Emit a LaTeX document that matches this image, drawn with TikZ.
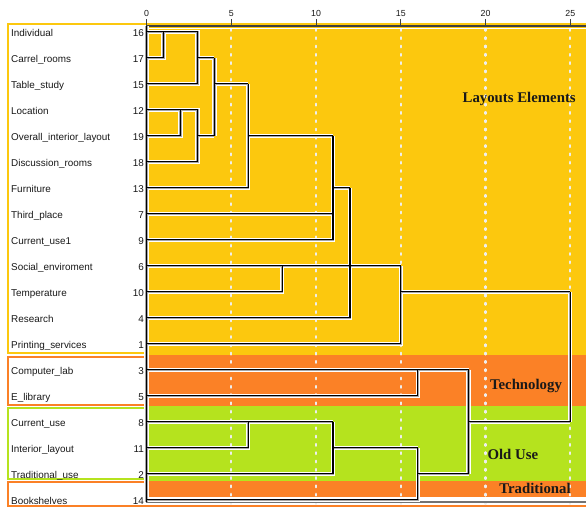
\documentclass[tikz,border=0pt]{standalone}
\usepackage{fontspec}
\setmainfont{Liberation Sans}
\newfontfamily\serifbold{Liberation Serif}
\definecolor{cyel}{RGB}{252,200,14}
\definecolor{corg}{RGB}{251,129,38}
\definecolor{cgrn}{RGB}{181,227,30}
\definecolor{cdash}{RGB}{238,238,238}
\definecolor{ctxt}{RGB}{25,25,25}
\newcommand\dendropaths[1]{%
  \draw[#1] (0,-0.22) -- (0,18.08);
  \draw[#1] (0,1) -| (1,0);
  \draw[#1] (0,0) -- (3,0) -- (3,2) -- (0,2);
  \draw[#1] (3,1) -- (4,1);
  \draw[#1] (0,4) -| (2,3);
  \draw[#1] (0,3) -- (3,3) -- (3,5) -- (0,5);
  \draw[#1] (3,4) -- (4,4);
  \draw[#1] (4,1) -- (4,4);
  \draw[#1] (4,2) -- (6,2);
  \draw[#1] (6,2) -- (6,6) -- (0,6);
  \draw[#1] (6,4) -- (11,4);
  \draw[#1] (0,7) -- (11,7);
  \draw[#1] (11,4) -- (11,8) -- (0,8);
  \draw[#1] (11,6) -- (12,6);
  \draw[#1] (0,10) -| (8,9);
  \draw[#1] (0,9) -- (15,9);
  \draw[#1] (12,6) -- (12,11) -- (0,11);
  \draw[#1] (15,9) -- (15,12) -- (0,12);
  \draw[#1] (15,10) -- (25,10);
  \draw[#1] (0,14) -| (16,13);
  \draw[#1] (0,13) -- (19,13);
  \draw[#1] (0,16) -| (6,15);
  \draw[#1] (0,15) -- (11,15);
  \draw[#1] (11,15) -- (11,17) -- (0,17);
  \draw[#1] (11,16) -- (16,16);
  \draw[#1] (16,16) -- (16,18) -- (0,18);
  \draw[#1] (16,17) -- (19,17);
  \draw[#1] (19,13) -- (19,17);
  \draw[#1] (19,15) -- (25,15);
  \draw[#1] (25,10) -- (25,15);
}
\begin{document}
\begin{tikzpicture}[x=1pt,y=-1pt,
  halo/.style={draw=white, line width=4.4pt, line join=miter},
  midl/.style={draw=black!35, line width=2.4pt, line join=miter},
  core/.style={draw=black, line width=1.2pt, line join=miter},
  lbl/.style={font=\fontsize{9.9}{11}\selectfont, text=ctxt, inner sep=0pt},
  ticklbl/.style={font=\fontsize{8.8}{10}\selectfont, text=ctxt, inner sep=0pt, anchor=base},
  grp/.style={font=\serifbold\bfseries\fontsize{14.8}{16}\selectfont, text=ctxt, inner sep=0pt, anchor=base},
  gline/.style={draw=cdash, line width=2.2pt, line cap=round, dash pattern=on 1.8pt off 6.5pt}
]
\useasboundingbox (0,0) rectangle (586,507);
\fill[white] (0,0) rectangle (586,507);
% coloured bands
\fill[cyel] (146,23.5) rectangle (586,355);
\fill[corg] (146,355) rectangle (586,405.5);
\fill[cgrn] (146,405.5) rectangle (586,480.5);
\fill[corg] (146,480.5) rectangle (586,496.5);
% group boxes on the left
\draw[cyel, line width=2pt] (586,23.5) -- (7.5,23.5) -- (7.5,352.5) -- (147,352.5);
\draw[corg, line width=2pt] (147,356.5) -- (7.5,356.5) -- (7.5,404.5) -- (147,404.5);
\draw[cgrn, line width=2pt] (147,407.5) -- (7.5,407.5) -- (7.5,479.3) -- (147,479.3);
\draw[corg, line width=2pt] (147,482) -- (7.5,482) -- (7.5,505.5) -- (586,505.5);
% grid lines
\foreach \d in {5,10,15,20,25}
  \draw[gline] ({146.5+16.95*\d},29) -- ({146.5+16.95*\d},504);
% frame lines
\draw[white, line width=1.2pt] (146,28.2) -- (586,28.2);
\draw[black!75, line width=1.3pt] (146,26) -- (586,26);
\draw[white, line width=1pt] (146,499.5) -- (586,499.5);
\draw[black!55, line width=1.2pt] (146,502) -- (586,502);
% axis ticks and labels
\foreach \d in {0,5,10,15,20,25} {
  \draw[black!75, line width=1pt] ({146.5+16.95*\d},19) -- ({146.5+16.95*\d},25);
  \node[ticklbl] (t\d) at ({146.5+16.95*\d},16) {\d};
}
% dendrogram
\begin{scope}[xshift=146.5pt, yshift=-31.7pt, x=16.95pt, y=-26pt]
  \dendropaths{halo}
  \dendropaths{midl}
  \dendropaths{core}
\end{scope}
% row labels
\foreach \i/\nm/\nu in {0/Individual/16, 1/Carrel\_rooms/17, 2/Table\_study/15,
  3/Location/12, 4/Overall\_interior\_layout/19, 5/Discussion\_rooms/18,
  6/Furniture/13, 7/Third\_place/7, 8/Current\_use1/9, 9/Social\_enviroment/6,
  10/Temperature/10, 11/Research/4, 12/Printing\_services/1, 13/Computer\_lab/3,
  14/E\_library/5, 15/Current\_use/8, 16/Interior\_layout/11,
  17/Traditional\_use/2, 18/Bookshelves/14} {
  \node[lbl, anchor=base west] (n\i) at (11,{31.7+26*\i+5}) {\nm};
  \node[lbl, anchor=base east] (k\i) at (144,{31.7+26*\i+5}) {\nu};
}
% group labels
\node[grp] (glay) at (519.2,102) {Layouts Elements};
\node[grp] (gtec) at (526,389.3) {Technology};
\node[grp] (gold) at (512.8,459) {Old Use};
\node[grp] (gtra) at (535,493.3) {Traditional};
\end{tikzpicture}
\end{document}
